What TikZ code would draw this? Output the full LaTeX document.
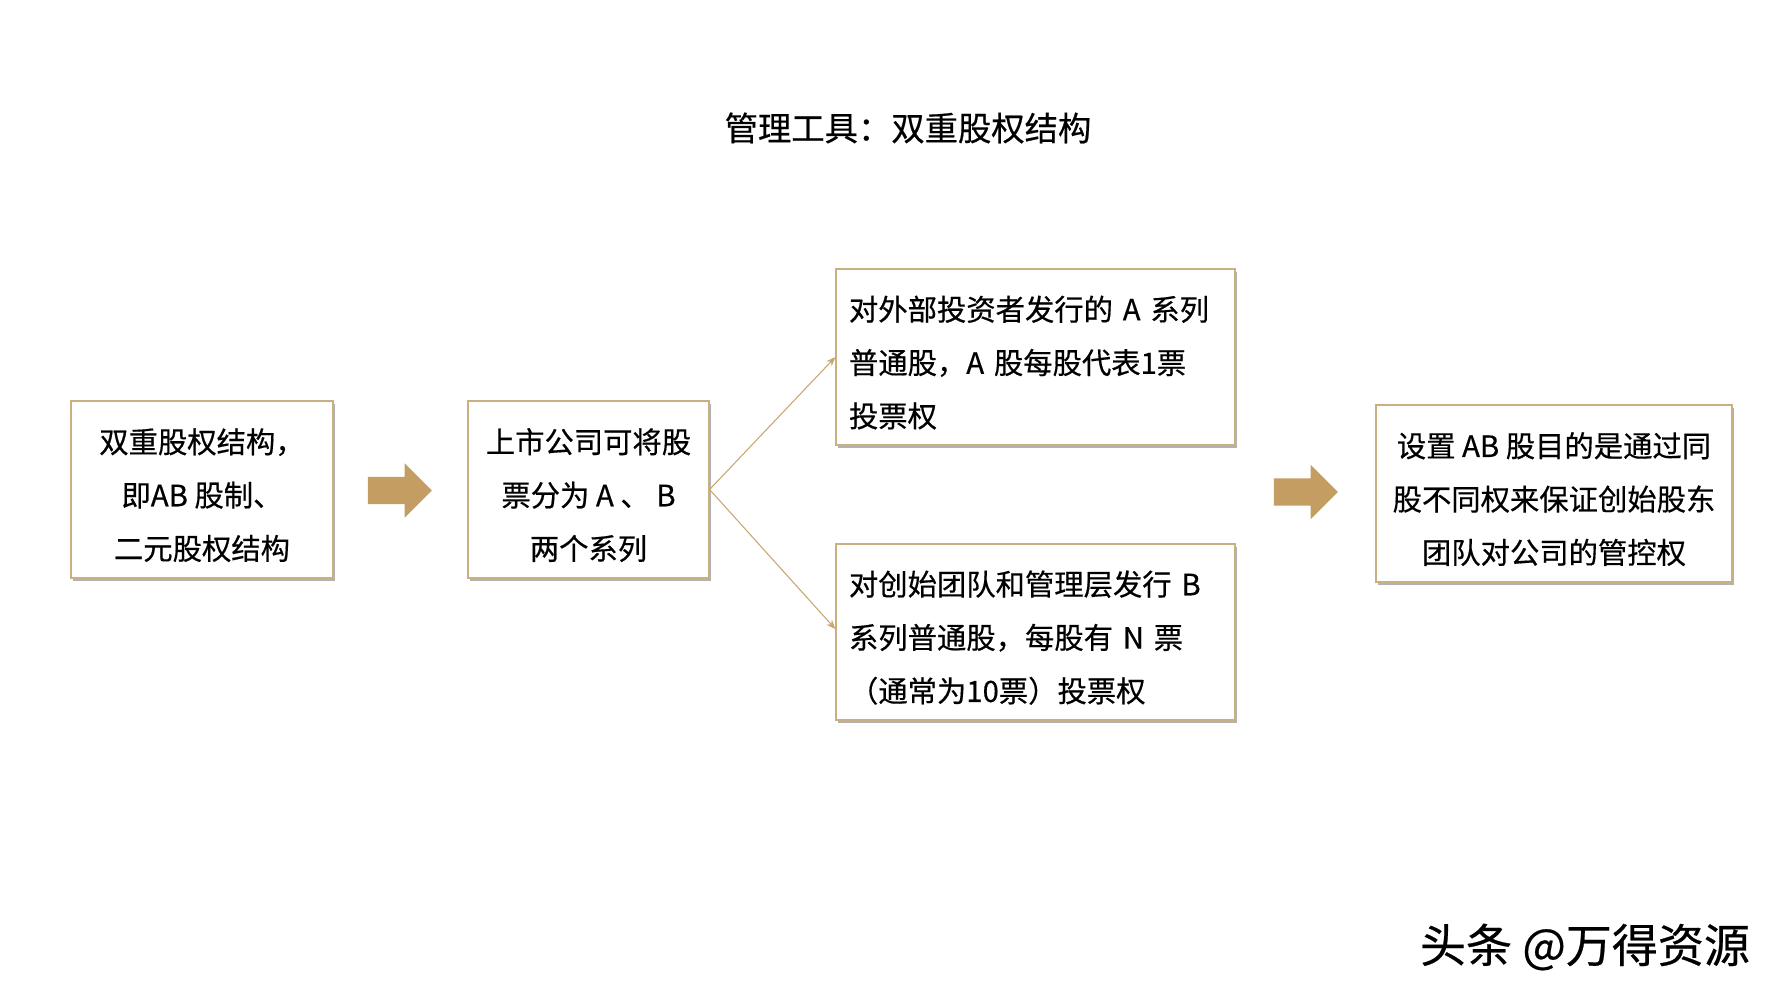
\documentclass[tikz,border=0pt]{standalone}
\usepackage{fontspec}
\setmainfont{Noto Sans CJK SC}[FakeBold=0.5]
\usetikzlibrary{shapes.arrows, arrows.meta, positioning, shadows}

\definecolor{boxline}{RGB}{201,176,128}
\definecolor{blockfill}{RGB}{196,157,98}
\definecolor{linktan}{RGB}{200,166,112}

% first-line strut: pushes the box text a little below the middle
\newcommand{\firstline}{\rule{0pt}{27pt}}

\begin{document}
\begin{tikzpicture}[
  x=0.75pt, y=-0.75pt,
  font=\fontsize{22}{40}\selectfont,
  >={Stealth[length=7pt, width=5.5pt]},
  card/.style  ={draw=boxline, line width=0.9pt, fill=white, align=center, inner sep=0pt,
                 minimum height=132.75pt,
                 drop shadow={shadow xshift=1.6pt, shadow yshift=-2.6pt, fill=black!55, opacity=.55}},
  lcard/.style ={card, align=left, inner xsep=9.75pt, text width=279.75pt, minimum height=132pt},
  block/.style ={single arrow, fill=blockfill, draw=none, inner xsep=0pt, inner ysep=10.1pt,
                 minimum height=48pt, single arrow head extend=10.1pt,
                 single arrow tip angle=90},
  link/.style  ={->, draw=linktan, line width=0.8pt},
]
\useasboundingbox (0,0) rectangle (1778,1000);

% ---------- title ----------
\node[font=\fontsize{25}{30}\selectfont] (title) at (908,128) {管理工具：双重股权结构};

% ---------- left part: definition + split ----------
\node[card, minimum width=196.5pt] (dual)  at (202,489.5) {\firstline 双重股权结构，\\即AB 股制、\\二元股权结构};
\node[block] (arr1) at (393,490.5) {};
\node[card, minimum width=180.75pt] (split) at (588.5,489.5) {\firstline 上市公司可将股\\票分为 A 、 B\\两个系列};

% ---------- middle column: the two series ----------
\node[lcard] (seriesA) at (1035.5,357) {\firstline 对外部投资者发行的 A 系列\\普通股，A 股每股代表1票\\投票权};
\node[lcard] (seriesB) at (1035.5,632) {\firstline 对创始团队和管理层发行 B\\系列普通股，每股有 N 票\\（通常为10票）投票权};

\draw[link] (split.east) -- (seriesA.west);
\draw[link] (split.east) -- ([yshift=2.2pt]seriesB.west);

% ---------- right part: purpose ----------
\node[block] (arr2) at (1299,492) {};
\node[card, minimum width=267pt] (goal) at (1554,493.5) {\firstline 设置 AB 股目的是通过同\\股不同权来保证创始股东\\团队对公司的管控权};

% ---------- watermark ----------
\node[font=\fontsize{34.5}{38}\selectfont] (mark) at (1585,947) {头条 @万得资源};

\end{tikzpicture}
\end{document}
